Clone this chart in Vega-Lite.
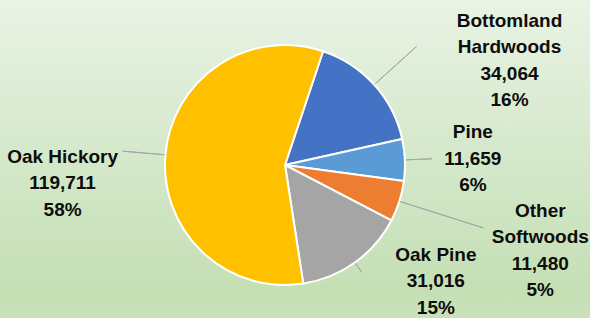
{
  "$schema": "https://vega.github.io/schema/vega-lite/v6.json",
  "width": 570,
  "height": 306,
  "padding": {"left": 0, "top": 12, "right": 20, "bottom": 0},
  "autosize": {"type": "none"},
  "background": "#D6E9CC",
  "config": {"view": {"stroke": null}},
  "data": {
    "values": [
      {"name": "Bottomland Hardwoods", "value": 34064, "share": 16, "rank": 1},
      {"name": "Pine", "value": 11659, "share": 6, "rank": 2},
      {"name": "Other Softwoods", "value": 11480, "share": 5, "rank": 3},
      {"name": "Oak Pine", "value": 31016, "share": 15, "rank": 4},
      {"name": "Oak Hickory", "value": 119711, "share": 58, "rank": 5}
    ]
  },
  "transform": [
    {"window": [{"op": "sum", "field": "value", "as": "cum"}], "sort": [{"field": "rank"}], "frame": [null, 0]},
    {"calculate": "datum.cum - datum.value / 2", "as": "mid"},
    {"calculate": "(length(datum.name) > 11 ? replace(datum.name, ' ', '\\n') : datum.name) + '\\n' + format(datum.value, ',') + '\\n' + datum.share + '%'", "as": "label"}
  ],
  "layer": [
    {
      "data": {"values": [{}]},
      "mark": {
        "type": "rect",
        "clip": false,
        "fill": {
          "gradient": "linear", "x1": 0, "y1": 0, "x2": 0, "y2": 1,
          "stops": [
            {"offset": 0, "color": "#E9F3E4"},
            {"offset": 0.5, "color": "#D4E8CA"},
            {"offset": 0.92, "color": "#C5DFB4"},
            {"offset": 1, "color": "#CAE2BB"}
          ]
        }
      },
      "encoding": {
        "x": {"value": 0},
        "x2": {"value": 590},
        "y": {"value": -12},
        "y2": {"value": 306}
      }
    },
    {
      "mark": {"type": "arc", "radius": 120, "stroke": "white", "strokeWidth": 2},
      "encoding": {
        "theta": {"field": "value", "type": "quantitative", "stack": true, "scale": {"domain": [0, 207930], "range": [0.3229, 6.6061]}},
        "order": {"field": "rank", "type": "quantitative"},
        "color": {
          "field": "name", "type": "nominal",
          "scale": {
            "domain": ["Bottomland Hardwoods", "Pine", "Other Softwoods", "Oak Pine", "Oak Hickory"],
            "range": ["#4472C4", "#5B9BD5", "#ED7D31", "#A5A5A5", "#FFC000"]
          },
          "legend": null
        }
      }
    },
    {
      "transform": [{"filter": "datum.rank == 1"}],
      "layer": [
        {
          "mark": {"type": "arc", "outerRadius": 177, "innerRadius": 121, "filled": false, "stroke": "#A6A6A6", "strokeWidth": 1},
          "encoding": {
            "theta": {"field": "mid", "type": "quantitative", "scale": {"domain": [0, 207930], "range": [0.3229, 6.6061]}},
            "theta2": {"field": "mid"}
          }
        },
        {
          "mark": {"type": "text", "dx": 93, "dy": -26, "fontSize": 19, "fontWeight": "bold", "font": "Liberation Sans", "lineBreak": "\n", "lineHeight": 26.5, "align": "center", "baseline": "middle", "fill": "#0D0D0D"},
          "encoding": {
            "theta": {"field": "mid", "type": "quantitative", "scale": {"domain": [0, 207930], "range": [0.3229, 6.6061]}},
            "radius": {"value": 177},
            "text": {"field": "label", "type": "nominal"}
          }
        }
      ]
    },
    {
      "transform": [{"filter": "datum.rank == 2"}],
      "layer": [
        {
          "mark": {"type": "arc", "outerRadius": 147, "innerRadius": 121, "filled": false, "stroke": "#A6A6A6", "strokeWidth": 1},
          "encoding": {
            "theta": {"field": "mid", "type": "quantitative", "scale": {"domain": [0, 207930], "range": [0.3229, 6.6061]}},
            "theta2": {"field": "mid"}
          }
        },
        {
          "mark": {"type": "text", "dx": 41, "dy": -26.5, "fontSize": 19, "fontWeight": "bold", "font": "Liberation Sans", "lineBreak": "\n", "lineHeight": 26.5, "align": "center", "baseline": "middle", "fill": "#0D0D0D"},
          "encoding": {
            "theta": {"field": "mid", "type": "quantitative", "scale": {"domain": [0, 207930], "range": [0.3229, 6.6061]}},
            "radius": {"value": 147},
            "text": {"field": "label", "type": "nominal"}
          }
        }
      ]
    },
    {
      "transform": [{"filter": "datum.rank == 3"}],
      "layer": [
        {
          "mark": {"type": "arc", "outerRadius": 208, "innerRadius": 121, "filled": false, "stroke": "#A6A6A6", "strokeWidth": 1},
          "encoding": {
            "theta": {"field": "mid", "type": "quantitative", "scale": {"domain": [0, 207930], "range": [0.3229, 6.6061]}},
            "theta2": {"field": "mid"}
          }
        },
        {
          "mark": {"type": "text", "dx": 57, "dy": -17, "fontSize": 19, "fontWeight": "bold", "font": "Liberation Sans", "lineBreak": "\n", "lineHeight": 26.5, "align": "center", "baseline": "middle", "fill": "#0D0D0D"},
          "encoding": {
            "theta": {"field": "mid", "type": "quantitative", "scale": {"domain": [0, 207930], "range": [0.3229, 6.6061]}},
            "radius": {"value": 208},
            "text": {"field": "label", "type": "nominal"}
          }
        }
      ]
    },
    {
      "transform": [{"filter": "datum.rank == 4"}],
      "layer": [
        {
          "mark": {"type": "arc", "outerRadius": 132, "innerRadius": 121, "filled": false, "stroke": "#A6A6A6", "strokeWidth": 1},
          "encoding": {
            "theta": {"field": "mid", "type": "quantitative", "scale": {"domain": [0, 207930], "range": [0.3229, 6.6061]}},
            "theta2": {"field": "mid"}
          }
        },
        {
          "mark": {"type": "text", "dx": 74, "dy": -17.5, "fontSize": 19, "fontWeight": "bold", "font": "Liberation Sans", "lineBreak": "\n", "lineHeight": 26.5, "align": "center", "baseline": "middle", "fill": "#0D0D0D"},
          "encoding": {
            "theta": {"field": "mid", "type": "quantitative", "scale": {"domain": [0, 207930], "range": [0.3229, 6.6061]}},
            "radius": {"value": 132},
            "text": {"field": "label", "type": "nominal"}
          }
        }
      ]
    },
    {
      "transform": [{"filter": "datum.rank == 5"}],
      "layer": [
        {
          "mark": {"type": "arc", "outerRadius": 163, "innerRadius": 121, "filled": false, "stroke": "#A6A6A6", "strokeWidth": 1},
          "encoding": {
            "theta": {"field": "mid", "type": "quantitative", "scale": {"domain": [0, 207930], "range": [0.3229, 6.6061]}},
            "theta2": {"field": "mid"}
          }
        },
        {
          "mark": {"type": "text", "dx": -60, "dy": 5.5, "fontSize": 19, "fontWeight": "bold", "font": "Liberation Sans", "lineBreak": "\n", "lineHeight": 26.5, "align": "center", "baseline": "middle", "fill": "#0D0D0D"},
          "encoding": {
            "theta": {"field": "mid", "type": "quantitative", "scale": {"domain": [0, 207930], "range": [0.3229, 6.6061]}},
            "radius": {"value": 163},
            "text": {"field": "label", "type": "nominal"}
          }
        }
      ]
    }
  ]
}
